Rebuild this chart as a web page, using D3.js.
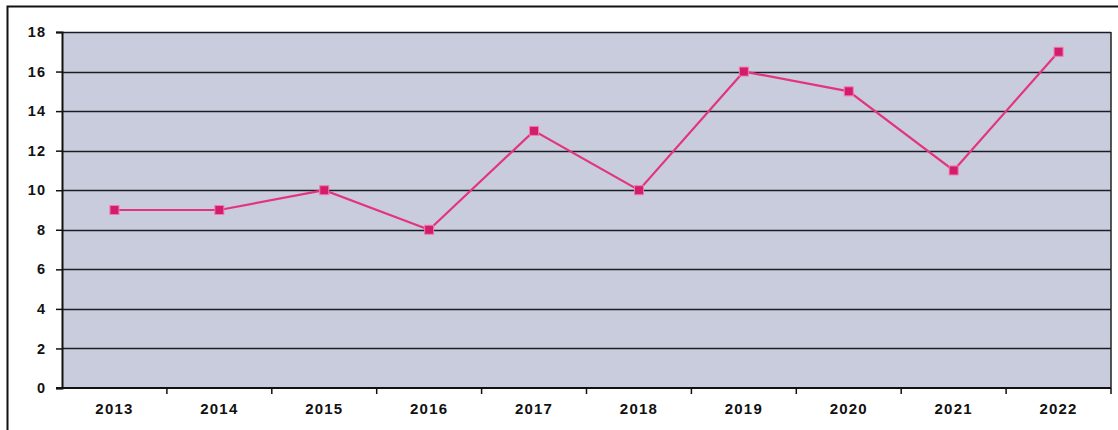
<!DOCTYPE html>
<html>
<head>
<meta charset="utf-8">
<script src="https://cdn.jsdelivr.net/npm/d3@7"></script>
<style>
  html, body { margin: 0; padding: 0; background: #fff; }
  svg { display: block; font-family: "Liberation Sans", Arial, sans-serif; }
</style>
</head>
<body>
<svg id="chart" width="1118" height="430"></svg>
<script>
// data
const years = ['2013', '2014', '2015', '2016', '2017', '2018', '2019', '2020', '2021', '2022'];
const counts = [9, 9, 10, 8, 13, 10, 16, 15, 11, 17];
const yTicks = [0, 2, 4, 6, 8, 10, 12, 14, 16, 18];

const svg = d3.select('#chart');
const margin = { top: 32, right: 7, bottom: 42, left: 62 };
const width = 1118 - margin.left - margin.right;
const height = 430 - margin.top - margin.bottom;

// outer frame (right/bottom run off the page in the scan)
svg.append('path')
  .attr('d', 'M7.5,440 V6.5 H1125')
  .attr('fill', 'none')
  .attr('stroke', '#111')
  .attr('stroke-width', 2);

const g = svg.append('g').attr('transform', `translate(${margin.left},${margin.top})`);

const x = d3.scaleBand().domain(years).range([0, width]);
const y = d3.scaleLinear().domain([0, 18]).range([height, 0]);

// plot background
g.append('rect')
  .attr('width', width)
  .attr('height', height)
  .attr('fill', '#c9ccdd');

// gridlines
g.selectAll('line.grid')
  .data(yTicks.filter(d => d > 0))
  .join('line')
    .attr('class', 'grid')
    .attr('x1', 0)
    .attr('x2', width)
    .attr('y1', d => Math.round(y(d)) + 0.5)
    .attr('y2', d => Math.round(y(d)) + 0.5)
    .attr('stroke', '#1c1c24')
    .attr('stroke-width', 1.6);

// right border of plot
g.append('line')
  .attr('x1', width).attr('x2', width)
  .attr('y1', 0).attr('y2', height)
  .attr('stroke', '#222')
  .attr('stroke-width', 1.5);

// Y axis
const yAxis = g.append('g')
  .call(d3.axisLeft(y).tickValues(yTicks).tickSize(6).tickPadding(10));
yAxis.select('.domain').attr('stroke', '#111').attr('stroke-width', 2);
yAxis.selectAll('.tick line').attr('stroke', '#111').attr('stroke-width', 1.5);
yAxis.selectAll('text')
  .attr('fill', '#111')
  .style('font-size', '14.5px')
  .style('font-weight', 'bold')
  .style('letter-spacing', '1px');

// X axis: ticks sit between categories
const xAxis = g.append('g').attr('transform', `translate(0,${height})`);
xAxis.append('line')
  .attr('x1', -6).attr('x2', width)
  .attr('stroke', '#111').attr('stroke-width', 2);
xAxis.selectAll('line.sep')
  .data(years)
  .join('line')
    .attr('class', 'sep')
    .attr('x1', d => x(d) + x.bandwidth())
    .attr('x2', d => x(d) + x.bandwidth())
    .attr('y1', 0).attr('y2', 6)
    .attr('stroke', '#111').attr('stroke-width', 1.5);
xAxis.selectAll('text')
  .data(years)
  .join('text')
    .attr('x', d => x(d) + x.bandwidth() / 2)
    .attr('y', 26)
    .attr('text-anchor', 'middle')
    .attr('fill', '#111')
    .style('font-size', '15px')
    .style('font-weight', 'bold')
    .style('letter-spacing', '1.2px')
    .text(d => d);

// line
const cx = d => x(d) + x.bandwidth() / 2;
g.append('path')
  .datum(counts)
  .attr('fill', 'none')
  .attr('stroke', '#e2357f')
  .attr('stroke-width', 2.2)
  .attr('d', d3.line().x((d, i) => cx(years[i])).y(d => y(d)));

// markers
g.selectAll('rect.pt')
  .data(counts)
  .join('rect')
    .attr('class', 'pt')
    .attr('x', (d, i) => cx(years[i]) - 4.5)
    .attr('y', d => y(d) - 4.5)
    .attr('width', 9)
    .attr('height', 9)
    .attr('fill', '#d41c6c')
    .attr('stroke', '#f27aae')
    .attr('stroke-width', 1);
</script>
</body>
</html>
